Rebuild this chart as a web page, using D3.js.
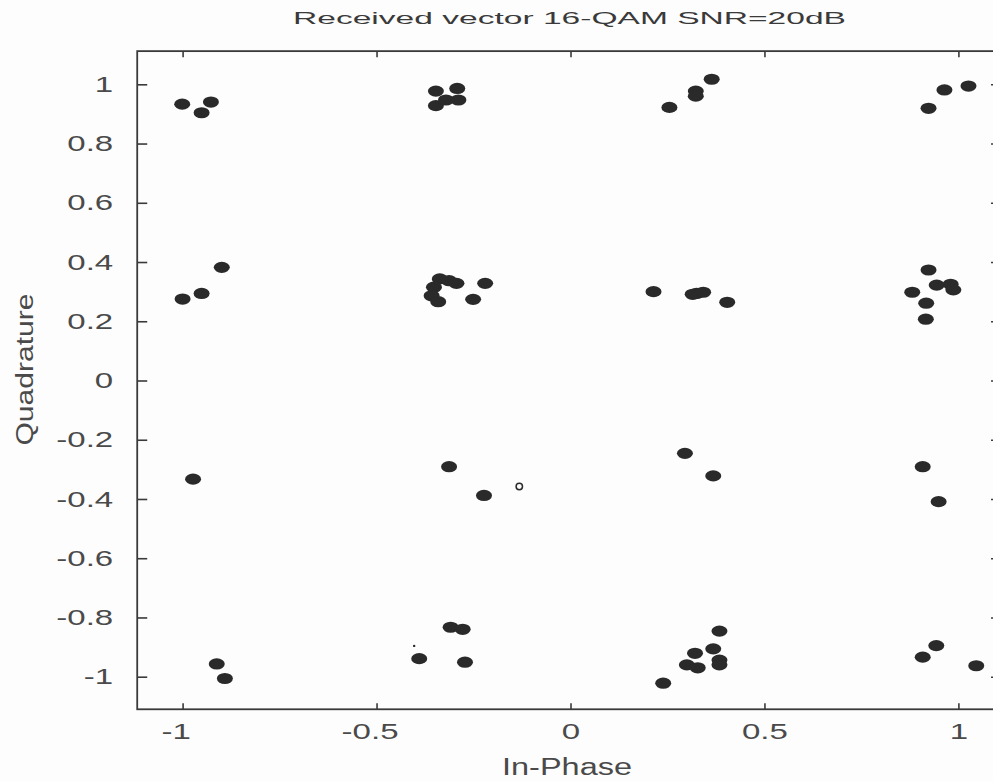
<!DOCTYPE html>
<html>
<head>
<meta charset="utf-8">
<script src="https://cdn.jsdelivr.net/npm/d3@7"></script>
<style>
  html, body { margin: 0; padding: 0; background: #fdfdfd; }
  svg { display: block; }
  text { font-family: "Liberation Sans", Arial, sans-serif; }
</style>
</head>
<body>
<svg id="chart" width="993" height="782"></svg>
<script>
// Received 16-QAM symbols (in-phase / quadrature components)
const inPhase = [
  -1.001, -0.951, -0.927, -0.347, -0.292, -0.347, -0.289, -0.321,
   0.255,  0.323,  0.323,  0.364,  0.923,  0.964,  1.026,
  -1.000, -0.951, -0.899, -0.337, -0.313, -0.294, -0.352, -0.358, -0.341, -0.251, -0.220,
   0.214,  0.315,  0.325,  0.342,  0.404,
   0.923,  0.944,  0.980,  0.987,  0.881,  0.917,  0.916,
  -0.973, -0.313, -0.223,  0.295,  0.368,  0.908,  0.949,
  -0.912, -0.891, -0.390, -0.309, -0.278, -0.272,
   0.384,  0.368,  0.321,  0.300,  0.328,  0.384,  0.384,  0.239,
   0.943,  0.908,  1.046
];
const quadrature = [
   0.933,  0.904,  0.940,  0.977,  0.986,  0.928,  0.947,  0.947,
   0.922,  0.977,  0.960,  1.017,  0.919,  0.981,  0.994,
   0.275,  0.294,  0.382,  0.343,  0.337,  0.328,  0.315,  0.286,  0.266,  0.274,  0.328,
   0.300,  0.291,  0.294,  0.298,  0.264,
   0.373,  0.322,  0.325,  0.306,  0.298,  0.261,  0.207,
  -0.333, -0.291, -0.388, -0.246, -0.322, -0.291, -0.409,
  -0.957, -1.006, -0.939, -0.833, -0.840, -0.951,
  -0.846, -0.906, -0.921, -0.960, -0.970, -0.944, -0.960, -1.022,
  -0.895, -0.934, -0.963
];
// Isolated samples drawn with other markers
const hollowI = [-0.132];
const hollowQ = [-0.358];
const dotI = [-0.403];
const dotQ = [-0.896];

const xTicks = [-1, -0.5, 0, 0.5, 1];
const yTicks = [-1, -0.8, -0.6, -0.4, -0.2, 0, 0.2, 0.4, 0.6, 0.8, 1];
const xLimits = [-1.117, 1.097];
const yLimits = [-1.11, 1.112];

const titleText = "Received vector 16-QAM SNR=20dB";
const xLabelText = "In-Phase";
const yLabelText = "Quadrature";

const svg = d3.select("#chart");

const x = d3.scaleLinear().domain([-1, 1]).range([182.6, 958.4]);
const y = d3.scaleLinear().domain([-1, 1]).range([676.7, 84.3]);

const boxLeft = x(xLimits[0]), boxRight = x(xLimits[1]);
const boxTop = y(yLimits[1]), boxBottom = y(yLimits[0]);

const axisColor = "#3a3a3a";
const labelColor = "#4a4a4a";

// Stretch tick labels horizontally (wide, spaced lettering)
function widen(sel, factor, fontSize) {
  sel.selectAll("text")
    .attr("fill", labelColor)
    .style("font-size", fontSize + "px")
    .each(function () {
      const w = this.getComputedTextLength();
      d3.select(this).attr("textLength", w * factor).attr("lengthAdjust", "spacingAndGlyphs");
    });
}

function styleAxis(g) {
  g.select(".domain").remove();
  g.selectAll(".tick line").attr("stroke", axisColor).attr("stroke-width", 1.6);
}

const fmt = d => d3.format("")(d).replace("\u2212", "-");

// Bottom axis (ticks pointing inward)
const gx = svg.append("g").attr("transform", `translate(0,${boxBottom})`)
  .call(d3.axisBottom(x).tickValues(xTicks).tickSize(-6).tickPadding(20).tickFormat(fmt));
styleAxis(gx);
gx.selectAll("text").attr("dy", "0.45em").attr("dx", d => d < 0 ? -7 : 0);
widen(gx, 1.5, 22);

// Top axis (ticks only)
const gxt = svg.append("g").attr("transform", `translate(0,${boxTop})`)
  .call(d3.axisTop(x).tickValues(xTicks).tickSize(-6).tickFormat(""));
styleAxis(gxt);

// Left axis
const gy = svg.append("g").attr("transform", `translate(${boxLeft},0)`)
  .call(d3.axisLeft(y).tickValues(yTicks).tickSize(-10).tickPadding(24).tickFormat(fmt));
styleAxis(gy);
widen(gy, 1.5, 22);

// Right axis (ticks only)
const gyr = svg.append("g").attr("transform", `translate(${boxRight},0)`)
  .call(d3.axisRight(y).tickValues(yTicks).tickSize(-5).tickFormat(""));
styleAxis(gyr);

// Axes box
svg.append("rect")
  .attr("x", boxLeft).attr("y", boxTop)
  .attr("width", boxRight - boxLeft).attr("height", boxBottom - boxTop)
  .attr("fill", "none").attr("stroke", axisColor).attr("stroke-width", 1.8);

// Symbols
const pts = inPhase.map((v, i) => ({ i: v, q: quadrature[i] }));
svg.append("g").selectAll("ellipse").data(pts).join("ellipse")
  .attr("cx", d => x(d.i)).attr("cy", d => y(d.q))
  .attr("rx", 8).attr("ry", 5.6)
  .attr("fill", "#2a2a2a");

svg.append("g").selectAll("circle").data(hollowI.map((v, i) => ({ i: v, q: hollowQ[i] }))).join("circle")
  .attr("cx", d => x(d.i)).attr("cy", d => y(d.q)).attr("r", 3.2)
  .attr("fill", "none").attr("stroke", "#2a2a2a").attr("stroke-width", 1.5);

svg.append("g").selectAll("circle").data(dotI.map((v, i) => ({ i: v, q: dotQ[i] }))).join("circle")
  .attr("cx", d => x(d.i)).attr("cy", d => y(d.q)).attr("r", 1.2)
  .attr("fill", "#2a2a2a");

// Title and axis labels
svg.append("text").text(titleText)
  .attr("x", 569.5).attr("y", 24).attr("text-anchor", "middle")
  .attr("fill", "#3a3a3a").style("font-size", "16.5px")
  .attr("textLength", 553).attr("lengthAdjust", "spacingAndGlyphs");

svg.append("text").text(xLabelText)
  .attr("x", 567).attr("y", 775).attr("text-anchor", "middle")
  .attr("fill", labelColor).style("font-size", "23px")
  .attr("textLength", 130).attr("lengthAdjust", "spacingAndGlyphs");

svg.append("text").text(yLabelText)
  .attr("transform", "translate(33,369.5) rotate(-90)")
  .attr("text-anchor", "middle")
  .attr("fill", labelColor).style("font-size", "23px")
  .attr("textLength", 152).attr("lengthAdjust", "spacingAndGlyphs");
</script>
</body>
</html>
